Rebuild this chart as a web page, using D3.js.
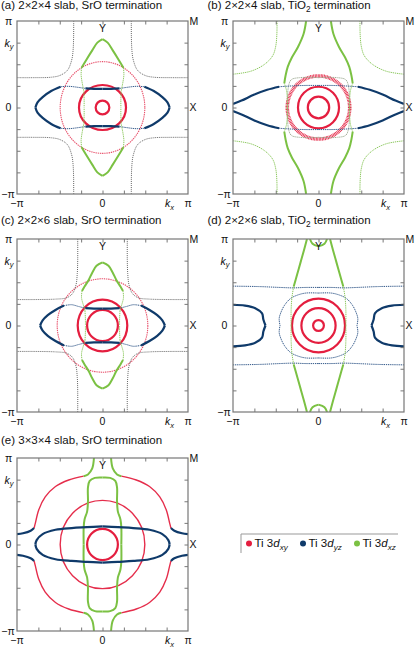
<!DOCTYPE html>
<html><head><meta charset="utf-8">
<script src="https://cdn.jsdelivr.net/npm/d3@7"></script>
<style>
body { margin: 0; background: #fff; }
text { font-family: "Liberation Sans", Arial, sans-serif; fill: #111; }
</style>
</head><body>
<svg id="chart" width="415" height="648"></svg>
<script>
// k values in units of pi; quadrant pieces (kx<=0, ky>=0) are mirrored
const panelTitles = ["(a) 2\u00d72\u00d74 slab, SrO termination", "(b) 2\u00d72\u00d74 slab, TiO|2| termination",
    "(c) 2\u00d72\u00d76 slab, SrO termination", "(d) 2\u00d72\u00d76 slab, TiO|2| termination",
    "(e) 3\u00d73\u00d74 slab, SrO termination"];
const legendNames = [["xy", "red"], ["yz", "blue"], ["xz", "green"]];

// (a)
const aRings = [[0.08, 0.08, "red"], [0.275, 0.26, "red"], [0.495, 0.53, "redThin"]];
const aBlueTip = [[-0.785, 0], [-0.76, 0.06], [-0.7, 0.12], [-0.6, 0.19], [-0.49, 0.24]];
const aBlueMid = [[-0.49, 0.24], [-0.4, 0.245], [-0.3, 0.235], [-0.2, 0.22]];
const aBlueTop = [[-0.2, 0.22], [-0.1, 0.215], [0, 0.215]];
const aGreenTip = [[0, 0.79], [-0.06, 0.75], [-0.12, 0.66], [-0.19, 0.55], [-0.245, 0.46]];
const aGreenMid = [[-0.245, 0.46], [-0.25, 0.38], [-0.24, 0.3], [-0.22, 0.2]];
const aGreenSide = [[-0.22, 0.2], [-0.215, 0.1], [-0.215, 0]];
const aCorner = [[-0.337, 1], [-0.338, 0.8], [-0.345, 0.65], [-0.36, 0.55], [-0.41, 0.43], [-0.5, 0.37], [-0.6, 0.35], [-0.8, 0.345], [-1, 0.345]];

// (b)
const bRings = [[0.125, 0.125, "red"], [0.24, 0.24, "red"], [0.365, 0.365, "redBand"]];
const bSquare = [[0, 0.345], [-0.22, 0.345], [-0.32, 0.32], [-0.355, 0.22], [-0.36, 0]];
const bGreenOuter = [[-0.145, 1], [-0.175, 0.85], [-0.24, 0.7], [-0.31, 0.58], [-0.36, 0.47], [-0.385, 0.37], [-0.4, 0.28]];
const bGreenInner = [[-0.4, 0.28], [-0.375, 0.2], [-0.365, 0.1], [-0.365, 0]];
const bCorner = [[-0.485, 1], [-0.487, 0.85], [-0.5, 0.71], [-0.535, 0.6], [-0.63, 0.5], [-0.79, 0.42], [-1, 0.385]];
const bBlueOuter = [[-1, 0.04], [-0.9, 0.08], [-0.75, 0.15], [-0.6, 0.205], [-0.46, 0.24]];
const bBlueInner = [[-0.46, 0.24], [-0.3, 0.25], [-0.15, 0.255], [0, 0.255]];

// (c)
const cRings = [[0.18, 0.18, "red"], [0.29, 0.3, "red"], [0.53, 0.54, "redThin"]];
const cBlueTip = [[-0.73, 0], [-0.7, 0.06], [-0.64, 0.12], [-0.55, 0.18], [-0.45, 0.23]];
const cBlueMid = [[-0.45, 0.23], [-0.36, 0.24], [-0.28, 0.22], [-0.2, 0.2]];
const cBlueTop = [[-0.2, 0.2], [-0.1, 0.195], [0, 0.195]];
const cGreenTip = [[0, 0.73], [-0.07, 0.69], [-0.12, 0.61], [-0.16, 0.53], [-0.21, 0.45], [-0.24, 0.4]];
const cGreenMid = [[-0.24, 0.4], [-0.245, 0.32], [-0.225, 0.24], [-0.205, 0.17]];
const cGreenSide = [[-0.205, 0.17], [-0.2, 0.08], [-0.2, 0]];
const cCorner = [[-0.29, 1], [-0.29, 0.75], [-0.295, 0.6], [-0.31, 0.47], [-0.35, 0.37], [-0.42, 0.32], [-0.55, 0.305], [-0.8, 0.3], [-1, 0.3]];

// (d)
const dRings = [[0.063, 0.063, "red"], [0.2, 0.2, "red"], [0.31, 0.31, "red"]];
const dOctagon = [[0, 0.375], [-0.15, 0.375], [-0.25, 0.35], [-0.33, 0.31], [-0.4, 0.23], [-0.44, 0.15], [-0.46, 0.08], [-0.45, 0]];
const dBlueLine = [[-1, 0.455], [-0.7, 0.45], [-0.45, 0.44], [-0.3, 0.435], [-0.15, 0.44], [0, 0.44]];
const dBracket = [[-1, 0.24], [-0.86, 0.23], [-0.74, 0.2], [-0.66, 0.14], [-0.645, 0.07], [-0.62, 0]];
const dGreenOuter = [[-0.135, 1], [-0.17, 0.87], [-0.21, 0.73], [-0.25, 0.59], [-0.29, 0.45]];
const dGreenInner = [[-0.29, 0.45], [-0.31, 0.33], [-0.32, 0.18], [-0.32, 0]];
const dGreenCup = [[-0.1, 1], [-0.07, 0.945], [0, 0.915]];

// (e)
const eRings = [[0.18, 0.18, "red"], [0.495, 0.51, "redMid"]];
const eGreenEdge = [[-0.1, 1], [-0.12, 0.88], [-0.17, 0.81], [-0.22, 0.79]];
const eRedArc = [[-0.22, 0.79], [-0.395, 0.746], [-0.55, 0.67], [-0.67, 0.55], [-0.746, 0.4], [-0.786, 0.245], [-0.8, 0.19]];
const eBlueEdge = [[-0.8, 0.19], [-0.84, 0.16], [-0.93, 0.13], [-1, 0.12]];
const eGreenLens = [[0, 0.775], [-0.09, 0.77], [-0.15, 0.735], [-0.17, 0.66], [-0.17, 0.5], [-0.18, 0.38], [-0.21, 0.29], [-0.22, 0.2], [-0.22, 0]];
const eBlueLens = [[-0.785, 0], [-0.77, 0.05], [-0.7, 0.12], [-0.55, 0.17], [-0.36, 0.19], [-0.18, 0.2], [0, 0.21]];

const styles = {
    red: { c: "#e41e3f", w: 2.2 },
    redMid: { c: "#e52d4b", w: 1.4 },
    redThin: { c: "#e8526c", w: 1.1, dash: "1.4 0.8" },
    redBand: { c: "#e6304e", w: 3.6, dash: "0.9 0.6" },
    blue: { c: "#0f3a6a", w: 2.2 },
    blueThin: { c: "#33598a", w: 1, dash: "1.3 0.8" },
    green: { c: "#7bc143", w: 2 },
    greenThin: { c: "#8cc85e", w: 1, dash: "1.3 0.8" },
    gray: { c: "#9aa88f", w: 1, dash: "1.2 0.8" },
    black: { c: "#555", w: 0.9, dash: "1 1" }
};

const panels = [
    { x: 17, y: 21, tx: 1, ty: 9, rings: aRings, curves: [[aCorner, "black"], [aBlueMid, "blueThin"], [aGreenMid, "greenThin"], [aBlueTip, "blue"], [aBlueTop, "blue"], [aGreenTip, "green"], [aGreenSide, "greenThin"]] },
    { x: 233, y: 21, tx: 207.5, ty: 9, rings: bRings, curves: [[bCorner, "greenThin"], [bSquare, "gray"], [bBlueInner, "blueThin"], [bBlueOuter, "blue"], [bGreenInner, "greenThin"], [bGreenOuter, "green"]] },
    { x: 17, y: 239, tx: 1, ty: 224, rings: cRings, curves: [[cCorner, "black"], [cBlueMid, "blueThin"], [cGreenMid, "greenThin"], [cBlueTip, "blue"], [cBlueTop, "blue"], [cGreenTip, "green"], [cGreenSide, "greenThin"]] },
    { x: 233, y: 239, tx: 207.5, ty: 224, rings: dRings, curves: [[dOctagon, "blueThin"], [dBlueLine, "blueThin"], [dBracket, "blue"], [dGreenInner, "greenThin"], [dGreenOuter, "green"], [dGreenCup, "green"]] },
    { x: 17, y: 458, tx: 1, ty: 444, rings: eRings, curves: [[eRedArc, "redMid"], [eBlueEdge, "blue"], [eGreenEdge, "green"], [eGreenLens, "green"], [eBlueLens, "blue"]] }
];

const W = 171, H = 173;
const svg = d3.select("#chart");

const mirror = pts => [pts, pts.map(p => [-p[0], p[1]]), pts.map(p => [p[0], -p[1]]), pts.map(p => [-p[0], -p[1]])];

function richText(sel, str) {
    // "|2|" marks a subscript
    str.split("|").forEach((s, i) => {
        const t = sel.append("tspan").text(s);
        if (i % 2 == 1) t.attr("font-size", "0.72em").attr("dy", 3);
        else if (i > 0) t.attr("dy", -3);
    });
}

panels.forEach(function (p, i) {
    let x = d3.scaleLinear().domain([-1, 1]).range([0, W]);
    let y = d3.scaleLinear().domain([-1, 1]).range([H, 0]);
    let g = svg.append("g").attr("transform", "translate(" + p.x + "," + p.y + ")");

    svg.append("text")
        .attr("x", p.tx)
        .attr("y", p.ty)
        .attr("font-size", 11.5)
        .call(richText, panelTitles[i]);

    g.append("clipPath").attr("id", "clip" + i)
        .append("rect").attr("width", W).attr("height", H);
    let plot = g.append("g").attr("clip-path", "url(#clip" + i + ")");

    let line = d3.line()
        .x(d => x(d[0]))
        .y(d => y(d[1]))
        .curve(d3.curveCatmullRom);

    plot.selectAll("ellipse")
        .data(p.rings)
        .join("ellipse")
        .attr("cx", x(0))
        .attr("cy", y(0))
        .attr("rx", d => x(d[0]) - x(0))
        .attr("ry", d => y(0) - y(d[1]))
        .attr("fill", "none")
        .attr("stroke", d => styles[d[2]].c)
        .attr("stroke-width", d => styles[d[2]].w)
        .attr("stroke-dasharray", d => styles[d[2]].dash || null);

    p.curves.forEach(function (cv) {
        let st = styles[cv[1]];
        plot.selectAll(null)
            .data(mirror(cv[0]))
            .join("path")
            .attr("d", line)
            .attr("fill", "none")
            .attr("stroke", st.c)
            .attr("stroke-width", st.w)
            .attr("stroke-dasharray", st.dash || null);
    });

    // inward ticks every pi/4 on all four sides
    let tv = d3.range(-0.75, 0.76, 0.25);
    let axes = [
        [d3.axisBottom(x), "translate(0," + H + ")"],
        [d3.axisTop(x), null],
        [d3.axisLeft(y), null],
        [d3.axisRight(y), "translate(" + W + ",0)"]
    ];
    axes.forEach(function (a) {
        let ag = g.append("g")
            .attr("transform", a[1])
            .call(a[0].tickValues(tv).tickSize(-3.5).tickFormat(""));
        ag.select(".domain").remove();
        ag.selectAll("line").attr("stroke", "#555").attr("stroke-width", 0.8);
    });
    g.append("rect")
        .attr("width", W).attr("height", H)
        .attr("fill", "none")
        .attr("stroke", "#777")
        .attr("stroke-width", 1.2);

    let fs = 10.5;
    let lab = (tx, ty, s, anchor) => g.append("text").attr("x", tx).attr("y", ty)
        .attr("font-size", fs).attr("text-anchor", anchor || "middle").text(s);
    lab(-8.5, y(1) + 3.5, "\u03c0");
    lab(-8.5, y(0) + 3.5, "0");
    lab(-9, y(-1) + 3.5, "\u2212\u03c0");
    lab(x(-1), H + 13, "\u2212\u03c0");
    lab(x(0), H + 13, "0");
    lab(x(1), H + 13, "\u03c0");
    lab(x(0), 11, "Y");
    lab(W + 1.5, 4, "M", "start");
    lab(W + 1.5, y(0) + 3.5, "X", "start");

    let ky = g.append("text").attr("x", -12.5).attr("y", 25.5).attr("font-size", fs);
    ky.append("tspan").attr("font-style", "italic").text("k");
    ky.append("tspan").attr("font-style", "italic").attr("font-size", 7.5).attr("dy", 2.5).text("y");
    let kx = g.append("text").attr("x", x(0.73)).attr("y", H + 13).attr("font-size", fs);
    kx.append("tspan").attr("font-style", "italic").text("k");
    kx.append("tspan").attr("font-style", "italic").attr("font-size", 7.5).attr("dy", 2.5).text("x");
});

// legend
let lg = svg.append("g").attr("transform", "translate(241,534)");
lg.append("path").attr("d", "M0,19V0H157").attr("fill", "none").attr("stroke", "#999").attr("stroke-width", 1);
legendNames.forEach(function (d, i) {
    let ix = 8 + i * 54;
    lg.append("circle").attr("cx", ix).attr("cy", 9.5).attr("r", 3).attr("fill", styles[d[1]].c);
    let t = lg.append("text").attr("x", ix + 5.5).attr("y", 13).attr("font-size", 11.5);
    t.append("tspan").text("Ti 3");
    t.append("tspan").attr("font-style", "italic").text("d");
    t.append("tspan").attr("font-style", "italic").attr("font-size", 8).attr("dy", 2.5).text(d[0]);
});
</script>
</body></html>
